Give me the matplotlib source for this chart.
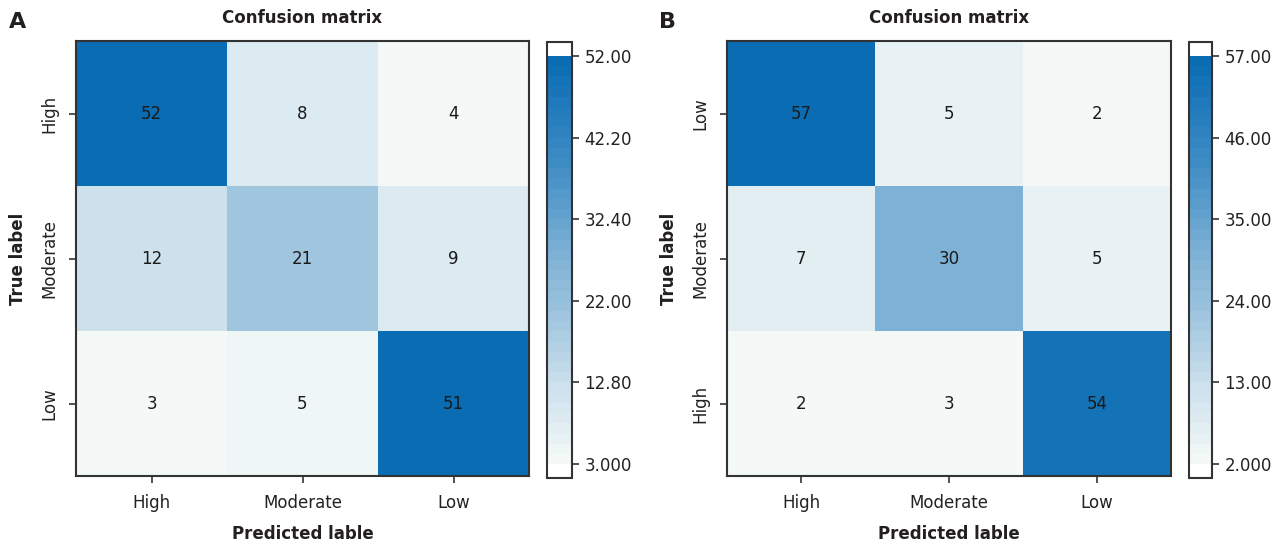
import numpy as np
import matplotlib
matplotlib.use("Agg")
import matplotlib.pyplot as plt
from matplotlib.colors import LinearSegmentedColormap, ListedColormap, Normalize

plt.rcParams['font.family'] = ['DejaVu Sans']

# ---------- data ----------
pred_labels = ["High", "Moderate", "Low"]

true_labels_a = ["High", "Moderate", "Low"]
cm_a = np.array([[52, 8, 4],
                 [12, 21, 9],
                 [3, 5, 51]])
cbar_ticklabels_a = ["3.000", "12.80", "22.00", "32.40", "42.20", "52.00"]

true_labels_b = ["Low", "Moderate", "High"]
cm_b = np.array([[57, 5, 2],
                 [7, 30, 5],
                 [2, 3, 54]])
cbar_ticklabels_b = ["2.000", "13.00", "24.00", "35.00", "46.00", "57.00"]

# stepped blue colormap
base = LinearSegmentedColormap.from_list(
    "cm_blues",
    [(0.0, "#f4f9f8"), (0.04, "#ebf4f5"), (0.11, "#dbe9f1"), (0.18, "#cde1ed"),
     (0.37, "#9cc3de"), (0.51, "#7fb2d6"), (0.75, "#3d8bc4"), (1.0, "#0a6cb3")])
cmap = ListedColormap(base(np.linspace(0, 1, 40)))
cmap.set_over("white")
cmap.set_under("white")

fig = plt.figure(figsize=(12.84, 5.44), dpi=100)
W, H = 1284, 544


def px(x0, y0, x1, y1):
    return [x0 / W, 1 - y1 / H, (x1 - x0) / W, (y1 - y0) / H]


def draw_panel(cm, ylabels, ticklabels, ax_box, cax_box, letter, letter_x):
    ax = fig.add_axes(px(*ax_box))
    cax = fig.add_axes(px(*cax_box))
    vmin, vmax = cm.min(), cm.max()
    norm = Normalize(vmin=vmin, vmax=vmax)
    im = ax.imshow(cm, cmap=cmap, norm=norm, aspect="auto", interpolation="nearest")
    for i in range(cm.shape[0]):
        for j in range(cm.shape[1]):
            ax.text(j, i, str(cm[i, j]), ha="center", va="center",
                    fontsize=12, color="#1a1a1a")
    ax.set_xticks(range(3))
    ax.set_xticklabels(pred_labels, fontsize=12, color="#222222")
    ax.set_yticks(range(3))
    ax.set_yticklabels(ylabels, fontsize=12, rotation=90, va="center", color="#222222")
    ax.tick_params(length=5, width=1.2, color="#333333", pad=8)
    for s in ax.spines.values():
        s.set_color("#333333")
        s.set_linewidth(1.5)
    ax.set_title("Confusion matrix", fontsize=12, fontweight="bold", pad=13, color="#231f20")
    ax.set_xlabel("Predicted lable", fontsize=12, fontweight="bold", labelpad=9, color="#231f20")
    ax.set_ylabel("True label", fontsize=12, fontweight="bold", labelpad=9, color="#231f20")

    cb = fig.colorbar(im, cax=cax, extend="both", extendrect=True,
                      extendfrac=0.034, drawedges=False)
    cb.set_ticks(np.linspace(vmin, vmax, 6))
    cb.set_ticklabels(ticklabels)
    cb.ax.tick_params(labelsize=12, length=5, width=1.2, color="#333333",
                      labelcolor="#222222", pad=4)
    cb.outline.set_edgecolor("#333333")
    cb.outline.set_linewidth(1.5)

    fig.text(letter_x / W, 1 - 22 / H, letter, fontsize=16, fontweight="bold",
             ha="left", va="center", color="#231f20")


draw_panel(cm_a, true_labels_a, cbar_ticklabels_a,
           (76, 41, 529, 476), (547, 42, 572, 478), "A", 9)
draw_panel(cm_b, true_labels_b, cbar_ticklabels_b,
           (727, 41, 1171, 476), (1189, 42, 1212, 478), "B", 659)

fig.savefig("out.png", dpi=100)
